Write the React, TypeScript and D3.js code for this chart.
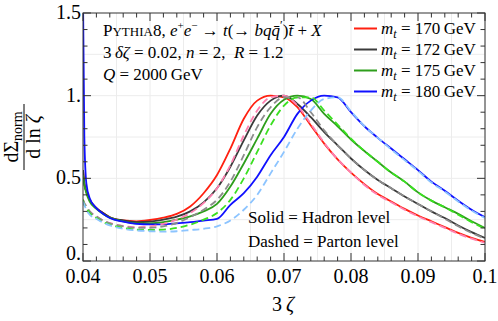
import React from 'react';
import * as d3 from 'd3';

const zeta3 = [
  0.04, 0.0402, 0.0405, 0.041, 0.042, 0.043, 0.044, 0.046, 0.048, 0.05, 0.052, 0.054,
  0.056, 0.058, 0.06, 0.062, 0.064, 0.066, 0.068, 0.07, 0.072, 0.074, 0.076, 0.078,
  0.08, 0.082, 0.084, 0.086, 0.088, 0.09, 0.092, 0.094, 0.096, 0.098, 0.1,
];

// hadron level (solid)
const had170 = [0.55, 0.47, 0.42, 0.37, 0.32, 0.29, 0.265, 0.245, 0.24, 0.248, 0.262, 0.285, 0.33, 0.41, 0.52, 0.68, 0.86, 0.97, 1.0, 0.99, 0.93, 0.82, 0.71, 0.615, 0.535, 0.465, 0.405, 0.36, 0.315, 0.275, 0.24, 0.205, 0.17, 0.14, 0.115];
const had172 = [0.55, 0.47, 0.42, 0.37, 0.32, 0.29, 0.265, 0.245, 0.235, 0.238, 0.25, 0.268, 0.3, 0.355, 0.44, 0.57, 0.73, 0.88, 0.97, 1.0, 0.95, 0.87, 0.78, 0.7, 0.62, 0.55, 0.49, 0.44, 0.39, 0.345, 0.3, 0.26, 0.215, 0.175, 0.14];
const had175 = [0.52, 0.46, 0.41, 0.36, 0.315, 0.285, 0.262, 0.24, 0.228, 0.228, 0.235, 0.25, 0.27, 0.3, 0.345, 0.45, 0.59, 0.74, 0.89, 0.975, 1.0, 0.98, 0.89, 0.815, 0.735, 0.665, 0.6, 0.535, 0.48, 0.415, 0.365, 0.325, 0.285, 0.24, 0.2];
const had180 = [1.6, 0.75, 0.47, 0.38, 0.32, 0.285, 0.26, 0.238, 0.225, 0.222, 0.222, 0.228, 0.235, 0.245, 0.255, 0.34, 0.41, 0.51, 0.64, 0.75, 0.89, 0.97, 1.0, 0.99, 0.9, 0.815, 0.745, 0.68, 0.615, 0.55, 0.48, 0.425, 0.365, 0.31, 0.265];

// parton level (dashed)
const par170 = [0.37, 0.35, 0.33, 0.3, 0.27, 0.245, 0.23, 0.212, 0.205, 0.21, 0.225, 0.25, 0.29, 0.35, 0.44, 0.58, 0.76, 0.91, 0.99, 1.0, 0.94, 0.83, 0.715, 0.615, 0.535, 0.46, 0.4, 0.355, 0.31, 0.27, 0.235, 0.2, 0.165, 0.135, 0.11];
const par172 = [0.37, 0.35, 0.33, 0.3, 0.27, 0.245, 0.228, 0.21, 0.2, 0.2, 0.21, 0.23, 0.265, 0.31, 0.37, 0.48, 0.64, 0.81, 0.93, 0.99, 0.99, 0.9, 0.79, 0.7, 0.62, 0.55, 0.49, 0.44, 0.39, 0.345, 0.3, 0.255, 0.21, 0.17, 0.135];
const par175 = [0.37, 0.34, 0.32, 0.29, 0.26, 0.235, 0.22, 0.2, 0.19, 0.188, 0.19, 0.2, 0.22, 0.25, 0.29, 0.37, 0.5, 0.66, 0.82, 0.94, 0.99, 0.99, 0.91, 0.825, 0.74, 0.665, 0.6, 0.535, 0.48, 0.415, 0.365, 0.325, 0.28, 0.235, 0.195];
const par180 = [0.36, 0.34, 0.31, 0.28, 0.255, 0.232, 0.215, 0.195, 0.185, 0.18, 0.178, 0.18, 0.187, 0.195, 0.21, 0.245, 0.31, 0.4, 0.53, 0.66, 0.8, 0.91, 0.98, 0.99, 0.905, 0.815, 0.745, 0.675, 0.61, 0.545, 0.475, 0.42, 0.36, 0.305, 0.26];

const masses = ['170', '172', '175', '180'];
const solidColors = ['#ff2010', '#3a3a3a', '#2e9e1c', '#1010ff'];
const dashedColors = ['#ff80b0', '#8c8c8c', '#3ae020', '#8cc4ff'];

const xTickLabels = ['0.04', '0.05', '0.06', '0.07', '0.08', '0.09', '0.1'];
const yTickLabels = ['0.', '0.5', '1.', '1.5'];

const W = 498;
const H = 321;
const serif = "'Liberation Serif', 'Times New Roman', Times, 'DejaVu Serif', 'Noto Serif', serif";

export default function App() {
  const x = d3.scaleLinear().domain([0.04, 0.1]).range([83, 485]);
  const y = d3.scaleLinear().domain([0, 1.5]).range([261, 13]);
  const [x0, x1] = x.range();
  const [y0, y1] = y.range();

  const line = d3
    .line<number>()
    .x((_, i) => x(zeta3[i]))
    .y((d) => y(d))
    .curve(d3.curveMonotoneX);

  const solids = [had170, had172, had175, had180];
  const dashed = [par170, par172, par175, par180];

  const xMajor = xTickLabels.map(Number);
  const xMinor = d3.range(0.04, 0.1001, 0.002);
  const xGrid = d3.range(0.045, 0.1, 0.005);
  const yMajor = [0, 0.5, 1, 1.5];
  const yMinor = d3.range(0, 1.501, 0.1);
  const yGrid = [0.25, 0.5, 0.75, 1, 1.25];

  const fs = 17;

  return (
    <svg
      width={W}
      height={H}
      style={{ position: 'absolute', left: 0, top: 0, background: '#fff', fontFamily: serif }}
    >
      <defs>
        <clipPath id="plot">
          <rect x={x0} y={y1} width={x1 - x0} height={y0 - y1} />
        </clipPath>
      </defs>

      {/* grid */}
      <g stroke="#ececec" strokeWidth={1}>
        {xGrid.map((v) => (
          <line key={'gx' + v} x1={x(v)} x2={x(v)} y1={y0} y2={y1} />
        ))}
        {yGrid.map((v) => (
          <line key={'gy' + v} x1={x0} x2={x1} y1={y(v)} y2={y(v)} />
        ))}
      </g>

      {/* curves */}
      <g clipPath="url(#plot)" fill="none" strokeWidth={1.8} strokeLinejoin="round">
        {solids.map((s, i) => (
          <path key={'s' + i} d={line(s) || ''} stroke={solidColors[i]} />
        ))}
        {dashed.map((s, i) => (
          <path key={'d' + i} d={line(s) || ''} stroke={dashedColors[i]} strokeDasharray="7,4" />
        ))}
      </g>

      {/* frame and ticks */}
      <g stroke="#333" strokeWidth={1}>
        <rect x={x0} y={y1} width={x1 - x0} height={y0 - y1} fill="none" />
        {xMinor.map((v) => {
          const major = xMajor.some((m) => Math.abs(m - v) < 1e-6);
          const len = major ? 8 : 4.5;
          return (
            <g key={'xt' + v}>
              <line x1={x(v)} x2={x(v)} y1={y0} y2={y0 - len} />
              <line x1={x(v)} x2={x(v)} y1={y1} y2={y1 + len} />
            </g>
          );
        })}
        {yMinor.map((v) => {
          const major = yMajor.some((m) => Math.abs(m - v) < 1e-6);
          const len = major ? 8 : 4.5;
          return (
            <g key={'yt' + v}>
              <line x1={x0} x2={x0 + len} y1={y(v)} y2={y(v)} />
              <line x1={x1} x2={x1 - len} y1={y(v)} y2={y(v)} />
            </g>
          );
        })}
      </g>

      {/* tick labels */}
      <g fontSize={20} fill="#000">
        {xTickLabels.map((t) => (
          <text key={'xl' + t} x={x(Number(t))} y={y0 + 22} textAnchor="middle">
            {t}
          </text>
        ))}
        {yTickLabels.map((t, i) => (
          <text key={'yl' + t} x={x0 - 2} y={y(yMajor[i]) + (i === 0 ? -1 : 6)} textAnchor="end">
            {t}
          </text>
        ))}
      </g>

      {/* axis labels */}
      <text x={283} y={311} fontSize={20} textAnchor="middle">
        3{'\u2009'}<tspan fontStyle="italic">ζ</tspan>
      </text>
      <g transform="translate(24,137) rotate(-90)" fontSize={20}>
        <text x={0} y={-6} textAnchor="middle">
          dΣ<tspan fontSize={14} dy={4}>norm</tspan>
        </text>
        <line x1={-33} x2={33} y1={0} y2={0} stroke="#000" strokeWidth={1} />
        <text x={0} y={16} textAnchor="middle">
          d ln <tspan fontStyle="italic">ζ</tspan>
        </text>
      </g>

      {/* annotation */}
      <g fontSize={fs}>
        <text x={103} y={36}>
          P<tspan fontSize={13}>YTHIA</tspan>8, <tspan fontStyle="italic">e</tspan>
          <tspan fontSize={11} dy={-7}>+</tspan>
          <tspan fontStyle="italic" dy={7}>e</tspan>
          <tspan fontSize={11} dy={-7}>−</tspan>
          <tspan dy={7}> → </tspan>
          <tspan fontStyle="italic">t</tspan>(→ <tspan fontStyle="italic">bq</tspan>
          <tspan fontStyle="italic">{'q\u0304'}</tspan>
          <tspan fontSize={12} dy={-7}>′</tspan>
          <tspan dy={7}>)</tspan>
          <tspan fontStyle="italic">{'t\u0304'}</tspan> + <tspan fontStyle="italic">X</tspan>
        </text>
        <text x={103} y={58}>
          3{'\u2009'}<tspan fontStyle="italic">δζ</tspan> = 0.02, <tspan fontStyle="italic">n</tspan> = 2,{'\u2002'}
          <tspan fontStyle="italic">R</tspan> = 1.2
        </text>
        <text x={103} y={80}>
          <tspan fontStyle="italic">Q</tspan> = 2000{'\u2009'}GeV
        </text>
      </g>

      {/* legend */}
      <g fontSize={fs}>
        {masses.map((m, i) => {
          const cy = 28.5 + i * 21;
          return (
            <g key={'lg' + m}>
              <line x1={354} x2={377} y1={cy} y2={cy} stroke={solidColors[i]} strokeWidth={2} />
              <text x={381} y={cy + 5.5}>
                <tspan fontStyle="italic">m</tspan>
                <tspan fontStyle="italic" fontSize={12} dy={4}>t</tspan>
                <tspan dy={-4}> = {m}{'\u2009'}GeV</tspan>
              </text>
            </g>
          );
        })}
      </g>

      <g fontSize={fs}>
        <text x={248} y={223}>Solid = Hadron level</text>
        <text x={248} y={247}>Dashed = Parton level</text>
      </g>
    </svg>
  );
}
